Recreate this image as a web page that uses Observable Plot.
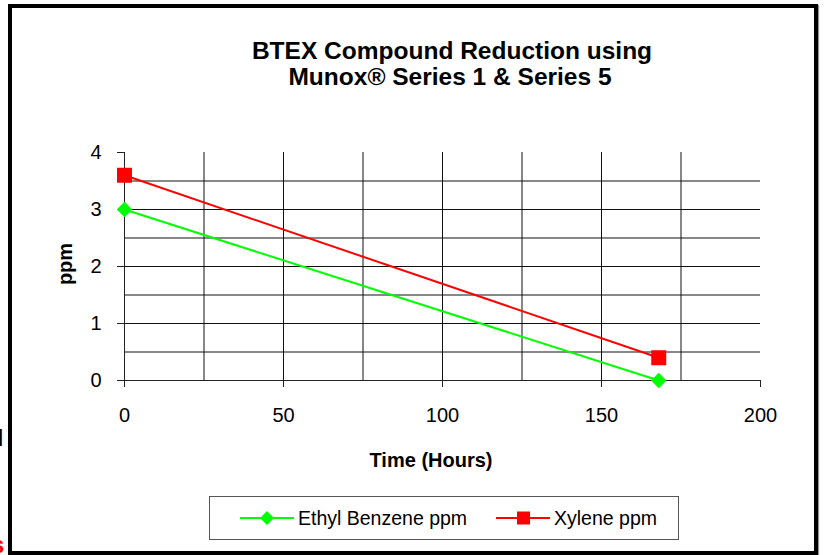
<!DOCTYPE html>
<html>
<head>
<meta charset="utf-8">
<script src="https://cdn.jsdelivr.net/npm/d3@7"></script>
<script src="https://cdn.jsdelivr.net/npm/@observablehq/plot@0.6"></script>
<style>
  html, body { margin: 0; padding: 0; background: #fff; }
  body { font-family: "Liberation Sans", Arial, sans-serif; }
  #wrap { position: relative; width: 824px; height: 555px; overflow: hidden; background: #fff; }
  #wrap > svg { position: absolute; left: 0; top: 0; }
  .frame { position: absolute; left: 8px; top: 4px; width: 802px; height: 543px; border: 4px solid #000; box-shadow: 1px 1px 1px #999; }
  .title { position: absolute; left: 0; width: 900px; text-align: center; font-weight: bold; font-size: 24.5px; line-height: 24px; color: #000; white-space: nowrap; }
  .xlab { position: absolute; left: 331px; width: 200px; top: 450px; text-align: center; font-weight: bold; font-size: 20px; line-height: 20px; }
  .ylab { position: absolute; left: 65px; top: 264px; transform: translate(-50%, -50%) rotate(-90deg); font-weight: bold; font-size: 20px; line-height: 20px; white-space: nowrap; }
  .legend { position: absolute; left: 209px; top: 496px; width: 468px; height: 42px; border: 1px solid #555; font-size: 19.5px; }
  .legend .item { position: absolute; top: 0; height: 42px; display: flex; align-items: center; white-space: nowrap; }
  .legend svg { display: block; margin-right: 4px; }
  .frag { position: absolute; font-size: 24px; line-height: 24px; white-space: nowrap; }
</style>
</head>
<body>
<div id="wrap">
  <span class="frag" style="left:-10px; top:426px; color:#000;">d</span>
  <span class="frag" style="left:-9px; top:533px; color:#f00; font-weight:bold;">s</span>
  <div class="frame"></div>
  <div class="title" style="left:1px; top:39px;" id="t1"></div>
  <div class="title" style="left:-1px; top:65px;" id="t2"></div>
  <div class="ylab" id="ylab"></div>
  <div class="xlab" id="xlab"></div>
  <div class="legend" id="legend"></div>
</div>
<script>
// ---- data ----
const hours = [0, 168];
const ethylBenzene = [3, 0];
const xylene = [3.6, 0.4];
const seriesNames = ["Ethyl Benzene ppm", "Xylene ppm"];
const seriesColors = ["#00ff00", "#ff0000"];
const xTicks = [0, 50, 100, 150, 200];
const yTicks = [0, 1, 2, 3, 4];
const xGrid = [25, 50, 75, 100, 125, 150, 175];
const yGrid = [0.5, 1, 1.5, 2, 2.5, 3, 3.5];
const titleLines = ["BTEX Compound Reduction using", "Munox® Series 1 & Series 5"];
const xLabel = "Time (Hours)";
const yLabel = "ppm";

const eb = hours.map((h, i) => ({h, v: ethylBenzene[i]}));
const xy = hours.map((h, i) => ({h, v: xylene[i]}));

const chart = Plot.plot({
  width: 824,
  height: 555,
  marginLeft: 124,
  marginRight: 64,
  marginTop: 152,
  marginBottom: 175,
  style: {fontFamily: "'Liberation Sans', Arial, sans-serif", fontSize: "20px", color: "#000", background: "transparent"},
  x: {domain: [0, 200]},
  y: {domain: [0, 4]},
  marks: [
    Plot.ruleY(yGrid, {x1: 0, x2: 200, stroke: "#111", strokeWidth: 1}),
    Plot.ruleX(xGrid, {y1: 0, y2: 4, stroke: "#111", strokeWidth: 1}),
    Plot.ruleX([0], {y1: 0, y2: 4, stroke: "#222", strokeWidth: 1}),
    Plot.ruleY([0], {x1: 0, x2: 200, stroke: "#222", strokeWidth: 1}),
    Plot.axisY({ticks: yTicks, tickFormat: d => String(d), tickSize: 7, tickPadding: 16, label: null, stroke: "#222", fontSize: 20}),
    Plot.axisX({ticks: xTicks, tickFormat: d => String(d), tickSize: 7, tickPadding: 20, label: null, stroke: "#222", fontSize: 20}),
    Plot.line(eb, {x: "h", y: "v", stroke: seriesColors[0], strokeWidth: 2}),
    Plot.line(xy, {x: "h", y: "v", stroke: seriesColors[1], strokeWidth: 2}),
    Plot.dot(eb, {x: "h", y: "v", symbol: "diamond2", r: 6, fill: seriesColors[0], stroke: seriesColors[0]}),
    Plot.dot(xy, {x: "h", y: "v", symbol: "square", r: 7.6, fill: seriesColors[1], stroke: seriesColors[1]})
  ]
});
chart.querySelectorAll("text").forEach(t => t.setAttribute("fill", "#000"));
document.getElementById("wrap").insertBefore(chart, document.querySelector(".frame"));

document.getElementById("t1").textContent = titleLines[0];
document.getElementById("t2").textContent = titleLines[1];
document.querySelectorAll(".title").forEach(el => { el.style.left = (parseFloat(el.style.left) + 451 - 450) + "px"; });
document.getElementById("xlab").textContent = xLabel;
document.getElementById("ylab").textContent = yLabel;

// legend
const legend = document.getElementById("legend");
const itemLefts = [30, 286];
seriesNames.forEach((name, i) => {
  const item = document.createElement("div");
  item.className = "item";
  item.style.left = itemLefts[i] + "px";
  const sym = i === 0
    ? `<polygon points="27,-7 34,0 27,7 20,0" fill="${seriesColors[i]}"/>`
    : `<rect x="21" y="-6.5" width="13" height="13" fill="${seriesColors[i]}"/>`;
  item.innerHTML = `<svg width="54" height="16" viewBox="0 -8 54 16"><line x1="0" x2="54" y1="0" y2="0" stroke="${seriesColors[i]}" stroke-width="2"/>${sym}</svg><span>${name}</span>`;
  legend.appendChild(item);
});
</script>
</body>
</html>
